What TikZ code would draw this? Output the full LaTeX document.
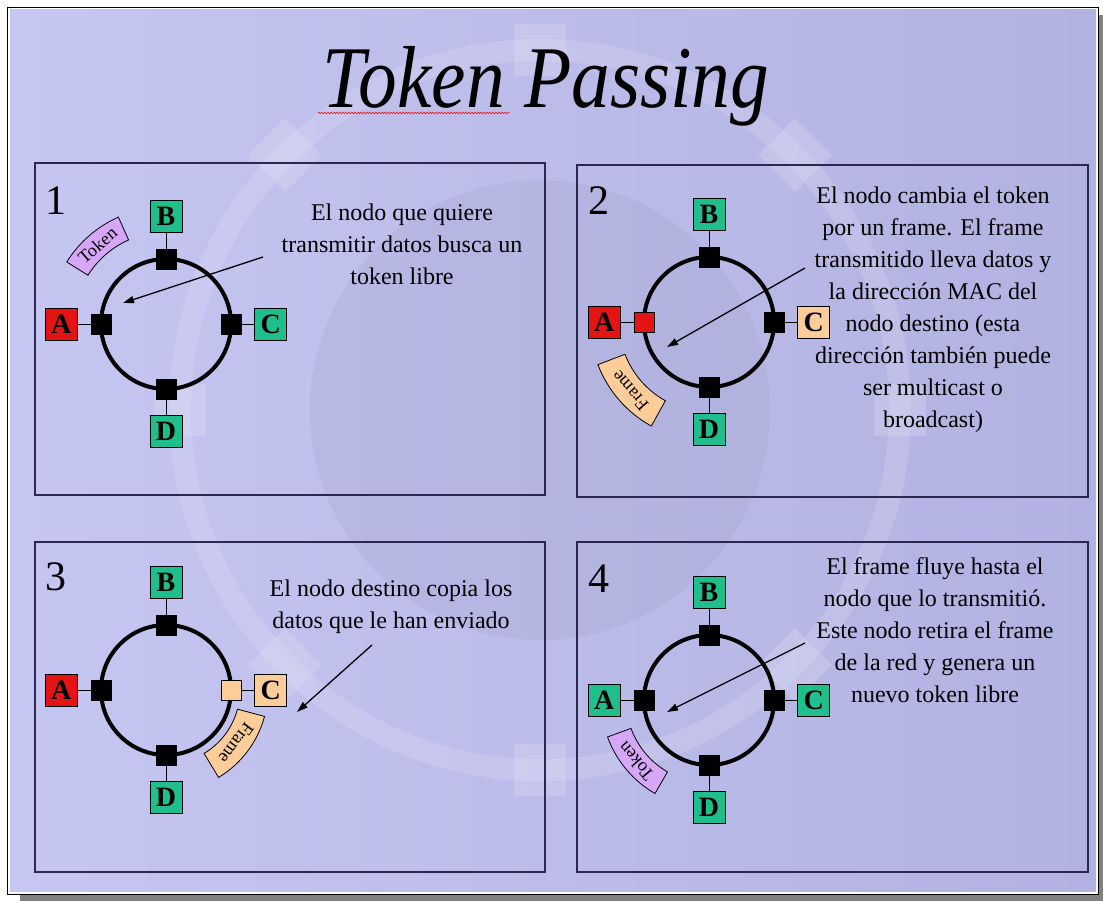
\documentclass[tikz,border=0pt]{standalone}
\usepackage{fontspec}
\setmainfont{Liberation Serif}
\newfontfamily\titlefont[FakeStretch=0.88]{Liberation Serif}
\usepackage{tikz}
\usetikzlibrary{positioning,calc,arrows.meta,decorations.pathmorphing}

\definecolor{slidebg}{RGB}{198,198,242}
\definecolor{slidedark}{RGB}{178,178,226}
\definecolor{slideshadow}{RGB}{128,128,128}
\definecolor{panelline}{RGB}{40,40,80}
\definecolor{stgreen}{RGB}{32,190,140}
\definecolor{stred}{RGB}{228,20,20}
\definecolor{stpeach}{RGB}{252,204,153}
\definecolor{stviolet}{RGB}{214,166,248}

\tikzset{
  panel/.style={draw=panelline, line width=1.6pt},
  orbitsq/.style={fill=white!60!slidedark, opacity=0.3, minimum size=52pt, inner sep=0pt},
  ringline/.style={draw=black, circle, line width=4pt, minimum size=130pt, inner sep=0pt, outer sep=0pt},
  tap/.style={draw=black, fill=black, line width=0.8pt, minimum size=20pt, inner sep=0pt},
  station/.style={draw=black, line width=0.8pt, minimum size=32pt, inner sep=0pt,
    font=\fontsize{28}{28}\selectfont\bfseries},
  drop/.style={line width=0.8pt},
  piece/.style={draw=black, line width=0.8pt},
  piecetext/.style={font=\fontsize{18}{18}\selectfont, inner sep=0pt},
  stepnum/.style={font=\fontsize{42}{42}\selectfont, anchor=base west, inner sep=0pt},
  note/.style={font=\fontsize{24}{32}\selectfont, align=center, anchor=north, inner sep=0pt},
  pointer/.style={line width=1.3pt, -{Triangle[length=11pt,width=7pt]}},
  spellmark/.style={draw=red, line width=0.5pt, decorate,
    decoration={snake, amplitude=0.9pt, segment length=3pt}},
}

% ring with four stations: prefix, centre, A fill, A tap fill, C fill, C tap fill
\newcommand{\tokenring}[6]{%
  \node[ringline] (#1ring) at (#2) {};
  \node[tap, fill=#4] (#1tapa) at (#1ring.west) {};
  \node[tap] (#1tapb) at (#1ring.north) {};
  \node[tap, fill=#6] (#1tapc) at (#1ring.east) {};
  \node[tap] (#1tapd) at (#1ring.south) {};
  \node[station, fill=#3, left=13pt of #1tapa] (#1a) {A};
  \node[station, fill=stgreen, above=16pt of #1tapb] (#1b) {B};
  \node[station, fill=#5, right=13pt of #1tapc] (#1c) {C};
  \node[station, fill=stgreen, below=16pt of #1tapd] (#1d) {D};
  \draw[drop] (#1a) -- (#1tapa);
  \draw[drop] (#1b) -- (#1tapb);
  \draw[drop] (#1c) -- (#1tapc);
  \draw[drop] (#1d) -- (#1tapd);
}

% curved token/frame: name, ring, angle, half span, inner r, outer r, colour, label
\newcommand{\tokenpiece}[8]{%
  \draw[piece, fill=#7] ($(#2)+({-(#3)-(#4)}:#6)$)
    arc[start angle={-(#3)-(#4)}, end angle={-(#3)+(#4)}, radius=#6]
    -- ($(#2)+({-(#3)+(#4)}:#5)$)
    arc[start angle={-(#3)+(#4)}, end angle={-(#3)-(#4)}, radius=#5] -- cycle;
  \node[piecetext, rotate={#3-90}] (#1) at ($(#2)+({-(#3)}:{(#5+#6)/2})$) {#8};
}

\begin{document}
\begin{tikzpicture}[x=1pt, y=-1pt]
\useasboundingbox (0,0) rectangle (1103,901);

% slide and its background
\fill[white] (0,0) rectangle (1103,901);
\fill[slideshadow] (20,15) rectangle (1103,901);
\draw[fill=white, line width=0.8pt] (7,7) rectangle (1098,894);
\shade[left color=slidebg, right color=slidedark] (10,10) rectangle (1096,891);
\fill[slidedark!85!black, opacity=0.18] (540,410) circle[radius=230];
\draw[white, opacity=0.13, line width=22pt] (540,410) circle[radius=360];
\node[orbitsq, rotate=90] (sq1) at (540,50) {};
\node[orbitsq, rotate=45] (sq2) at (795,155) {};
\node[orbitsq, rotate=0] (sq3) at (900,410) {};
\node[orbitsq, rotate=-45] (sq4) at (795,665) {};
\node[orbitsq, rotate=-90] (sq5) at (540,770) {};
\node[orbitsq, rotate=-135] (sq6) at (285,665) {};
\node[orbitsq, rotate=180] (sq7) at (180,410) {};
\node[orbitsq, rotate=135] (sq8) at (285,155) {};

% title
\node[font=\titlefont\itshape\fontsize{88}{88}\selectfont, anchor=base, inner sep=0pt]
  (title) at (546,108) {Token Passing};
\draw[spellmark] (318,113) -- (510,113);

% the four steps
\draw[panel] (35,163) rectangle (545,495);
\draw[panel] (577,165) rectangle (1088,497);
\draw[panel] (35,542) rectangle (545,872);
\draw[panel] (577,542) rectangle (1088,872);

\node[stepnum] (n1) at (45,215) {1};
\node[stepnum] (n2) at (588,215) {2};
\node[stepnum] (n3) at (45,590) {3};
\node[stepnum] (n4) at (588,592) {4};

% step 1
\tokenring{p1}{166,324}{stred}{black}{stgreen}{black}
\tokenpiece{p1token}{p1ring}{131}{17}{92}{117}{stviolet}{Token}
\node[note] (t1) at (402,204) {El nodo que quiere\\transmitir datos busca un\\token libre};
\coordinate (p1from) at (263,257);
\coordinate (p1to) at (123,303);
\draw[pointer] (p1from) -- (p1to);

% step 2
\tokenring{p2}{709,322}{stred}{stred}{stpeach}{black}
\tokenpiece{p2frame}{p2ring}{221}{20}{90}{119}{stpeach}{Frame}
\node[note] (t2) at (933,187) {El nodo cambia el token\\por un frame. El frame\\transmitido lleva datos y\\la dirección MAC del\\nodo destino (esta\\dirección también puede\\ser multicast o\\broadcast)};
\coordinate (p2from) at (805,268);
\coordinate (p2to) at (667,347);
\draw[pointer] (p2from) -- (p2to);

% step 3
\tokenring{p3}{166,690}{stred}{black}{stpeach}{stpeach}
\tokenpiece{p3frame}{p3ring}{-37}{22}{74}{102}{stpeach}{Frame}
\node[note] (t3) at (391,580) {El nodo destino copia los\\datos que le han enviado};
\coordinate (p3from) at (372,645);
\coordinate (p3to) at (297,712);
\draw[pointer] (p3from) -- (p3to);

% step 4
\tokenring{p4}{709,700}{stgreen}{black}{stgreen}{black}
\tokenpiece{p4token}{p4ring}{220}{20}{83}{108}{stviolet}{Token}
\node[note] (t4) at (935,557) {El frame fluye hasta el\\nodo que lo transmitió.\\Este nodo retira el frame\\de la red y genera un\\nuevo token libre};
\coordinate (p4from) at (805,643);
\coordinate (p4to) at (667,712);
\draw[pointer] (p4from) -- (p4to);
\end{tikzpicture}
\end{document}
